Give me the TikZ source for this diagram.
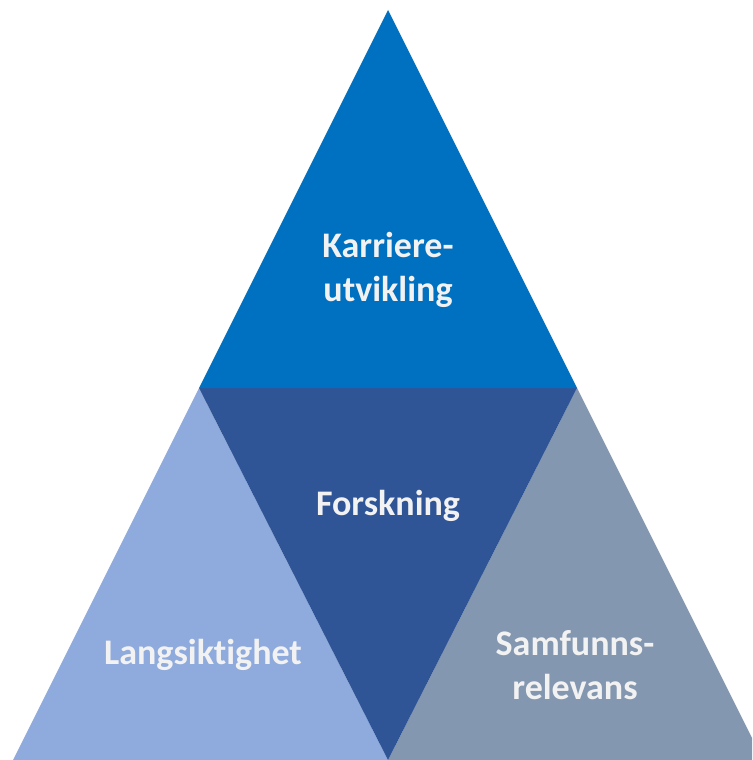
\documentclass[tikz,border=0pt]{standalone}
\usepackage{fontspec}
\setmainfont{Carlito}[Ligatures=NoCommon]
\definecolor{ctop}{HTML}{0070C0}
\definecolor{cmid}{HTML}{2F5597}
\definecolor{cleft}{HTML}{8FAADC}
\definecolor{cright}{HTML}{8497B0}
\definecolor{ctext}{HTML}{F2F2F2}
\begin{document}
\begin{tikzpicture}[x=1pt,y=-1pt,
  lbl/.style={text=ctext,font=\fontsize{36}{44}\selectfont\bfseries,align=center,inner sep=0pt}]
\useasboundingbox (0,0) rectangle (752,760);
\clip (0,0) rectangle (752,760);
\coordinate (A) at (388,10);
\coordinate (L) at (199,388);
\coordinate (R) at (577,388);
\coordinate (BL) at (13,760);
\coordinate (BM) at (388,760);
\coordinate (BR) at (763,760);
\fill[cleft] (L) -- (BM) -- (BL) -- cycle;
\fill[cright] (R) -- (BR) -- (BM) -- cycle;
\fill[cmid] (L) -- (R) -- (BM) -- cycle;
\fill[ctop] (A) -- (R) -- (L) -- cycle;
\node[lbl] (k) at (388,270) {Karriere-\\utvikling};
\node[lbl] (f) at (388,506) {Forskning};
\node[lbl] (l) at (203,655) {Langsiktighet};
\node[lbl] (s) at (575,665) {Samfunns-\\relevans};
\end{tikzpicture}
\end{document}
